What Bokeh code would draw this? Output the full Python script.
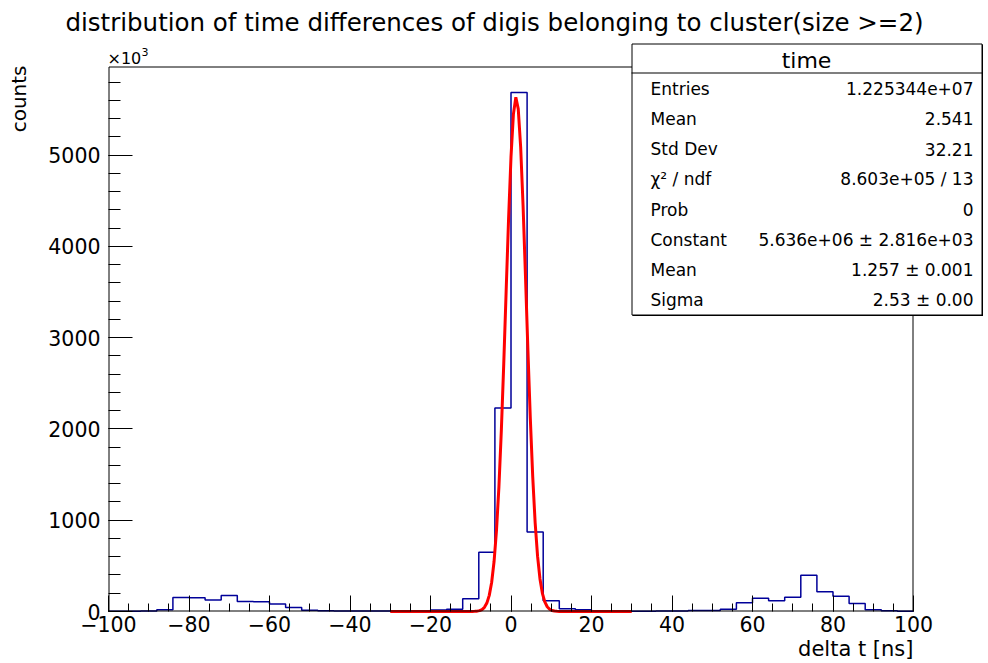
import numpy as np
from bokeh.plotting import figure
from bokeh.models import FixedTicker, Label, BoxAnnotation, Range1d
from bokeh.embed import file_html
from bokeh.resources import INLINE

# ---- histogram "time": delta t of digis in clusters (size >= 2), 4 ns bins, counts in 10^3
BIN_LO, BIN_HI, BIN_W = -100, 100, 4
counts_k = [
    2, 3, 6, 19, 154, 150, 125, 176, 110, 108,
    81, 44, 15, 8, 6, 5, 5, 5, 6, 8,
    16, 25, 139, 650, 2229, 5687, 870, 117, 30, 20,
    6, 5, 4, 4, 5, 6, 11, 12, 25, 95,
    146, 117, 157, 398, 216, 168, 88, 19, 8, 4,
]

# gaus fit result over [-30, 30]
FIT_CONST = 5.636e6
FIT_MEAN = 1.257
FIT_SIGMA = 2.53
FIT_LO, FIT_HI, FIT_NPX = -30, 30, 100

# statistics box
stat_title = "time"
stat_names = ["Entries", "Mean", "Std Dev", "\u03c7\u00b2 / ndf", "Prob",
              "Constant", "Mean", "Sigma"]
stat_values = ["1.225344e+07", "2.541", "32.21", "8.603e+05 / 13", "0",
               "5.636e+06 \u00b1 2.816e+03", "1.257 \u00b1 0.001", "2.53 \u00b1 0.00"]

x_major = list(range(-100, 101, 20))
x_minor = list(range(-100, 101, 5))
y_major = list(range(0, 5001, 1000))
y_minor = list(range(0, 5801, 200))

title_text = "distribution of time differences of digis belonging to cluster(size >=2)"
x_title = "delta t [ns]"
y_title = "counts"

# ---- layout (pixels): the histogram frame inside a full-canvas plot area
W, H = 988, 663
FL, FR, FT, FB = 108, 913, 66, 611
FONT = "DejaVu Sans"
LIFT = 7  # baseline correction for text labels

edges = np.arange(BIN_LO, BIN_HI + BIN_W, BIN_W)
y_top = 1.05 * max(counts_k)

sx = (BIN_HI - BIN_LO) / (FR - FL)
sy = y_top / (FB - FT)

p = figure(width=W, height=H, output_backend="svg", toolbar_location=None,
           x_range=Range1d(BIN_LO - FL * sx, BIN_HI + (W - FR) * sx),
           y_range=Range1d(0 - (H - FB) * sy, y_top + FT * sy),
           min_border=0)
p.xgrid.visible = False
p.ygrid.visible = False
p.outline_line_color = None
p.background_fill_color = "white"
p.border_fill_color = "white"


def px_x(px):
    return BIN_LO + (px - FL) * sx


def px_y(py):
    return (FB - py) * sy


def text(px, py, s, size, align="left", angle=0.0, level="annotation"):
    p.add_layout(Label(x=px_x(px), y=px_y(py), text=s, text_font=FONT,
                       text_font_size=size, text_align=align, angle=angle,
                       text_baseline="alphabetic", text_color="black",
                       level=level))


def box(x0, x1, y0, y1, fill=None, line=None, level="annotation"):
    p.add_layout(BoxAnnotation(left=px_x(x0), right=px_x(x1),
                               top=px_y(y0), bottom=px_y(y1),
                               fill_color=fill or "white",
                               fill_alpha=1 if fill else 0,
                               line_color=line or "black",
                               line_alpha=1 if line else 0,
                               line_width=1, level=level))


# axes pinned to the histogram frame, ROOT-style inward ticks
xa = p.xaxis[0]
xa.fixed_location = 0
xa.ticker = FixedTicker(ticks=x_major, minor_ticks=x_minor)
xa.major_tick_in, xa.major_tick_out = 16, 0
xa.minor_tick_in, xa.minor_tick_out = 8, 0
xa.major_label_overrides = {t: str(t).replace("-", "\u2212") for t in x_major}
xa.major_label_standoff = 4

ya = p.yaxis[0]
ya.fixed_location = BIN_LO
ya.ticker = FixedTicker(ticks=y_major, minor_ticks=y_minor)
ya.major_tick_in, ya.major_tick_out = 24, 0
ya.minor_tick_in, ya.minor_tick_out = 12, 0
ya.major_label_standoff = 8

for ax in (xa, ya):
    ax.axis_line_color = None
    ax.major_tick_line_color = "black"
    ax.minor_tick_line_color = "black"
    ax.major_label_text_font = FONT
    ax.major_label_text_font_size = "20.5px"
    ax.major_label_text_color = "black"

# histogram outline
p.step(x=edges, y=list(counts_k) + [counts_k[-1]], mode="after",
       line_color="#000099", line_width=1.5)

# gaussian fit curve (in units of 10^3)
fx = np.linspace(FIT_LO, FIT_HI, FIT_NPX + 1)
fy = FIT_CONST / 1e3 * np.exp(-0.5 * ((fx - FIT_MEAN) / FIT_SIGMA) ** 2)
p.line(fx, fy, line_color="#ff0000", line_width=3)

# frame border (half-pixel aligned for a crisp 1 px line)
box(FL + 0.5, FR - 0.5, FT + 0.5, FB - 0.5, line="black")

# texts around the frame
text(494, 29 - LIFT, title_text, "24.5px", align="center")
text(FR, 655 - LIFT, x_title, "21px", align="right")
text(25 - LIFT, FT - 1, y_title, "20px", align="right", angle=np.pi / 2)
text(107, 63 - 5, "\u00d710", "16px")
text(141, 56 - 5, "3", "11px")

# statistics box with shadow
BX0, BX1, BY0, BY1, SEP = 631, 981, 43, 314, 72
box(BX0 + 1, BX1 + 1.5, BY0 + 1, BY1 + 1.5, fill="black", level="overlay")
box(BX0 + 0.5, BX1 + 0.5, BY0 + 0.5, BY1 + 0.5, fill="white", line="black",
    level="overlay")
box(BX0, BX1 + 1, SEP, SEP + 1, fill="black", level="overlay")
text((BX0 + BX1) / 2, 67 - LIFT, stat_title, "22px", align="center", level="overlay")

row_h = (BY1 - SEP) / len(stat_names)
for i, (name, val) in enumerate(zip(stat_names, stat_values)):
    base = 95 + row_h * i - LIFT
    text(650, base, name, "17px", level="overlay")
    text(973, base, val, "17px", align="right", level="overlay")

open("out.html", "w").write(file_html(p, INLINE))
